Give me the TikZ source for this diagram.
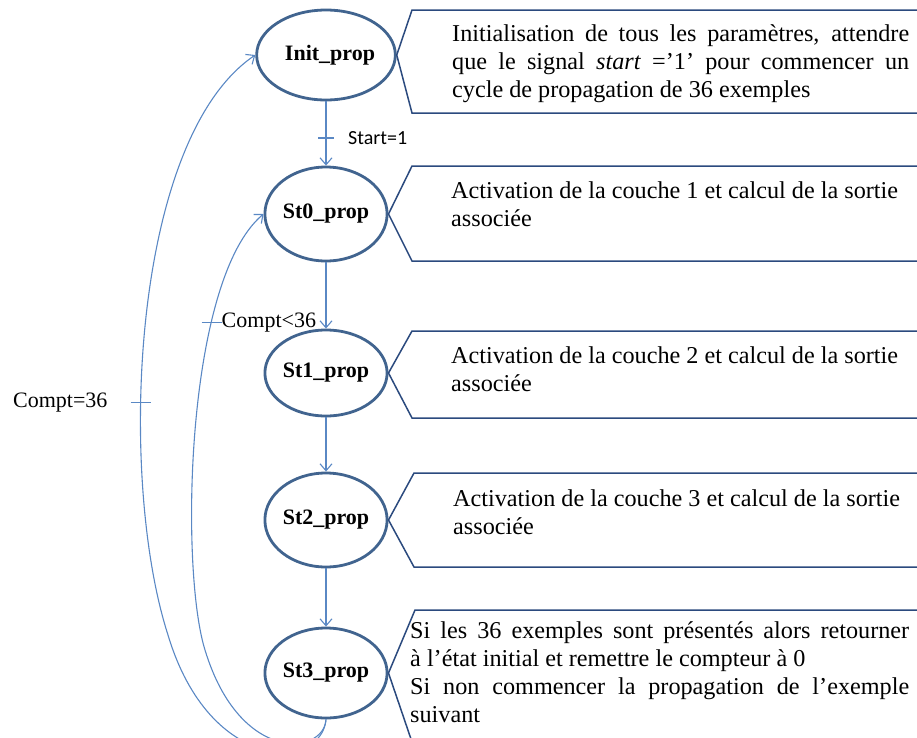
\documentclass[tikz,border=0pt]{standalone}
\usepackage{fontspec}
\setmainfont{Liberation Serif}
\newfontfamily\calib{Carlito}
\usetikzlibrary{shapes.geometric,arrows.meta,calc}
\definecolor{ellc}{HTML}{41648F}
\definecolor{linec}{HTML}{5A88C4}
\definecolor{boxc}{HTML}{2B4A7E}
\begin{document}
\begin{tikzpicture}[x=1pt,y=-1pt,
  state/.style={ellipse,draw=ellc,line width=2.8pt,minimum width=116pt,minimum height=90pt,inner sep=0pt,font=\fontsize{22}{24}\selectfont\bfseries},
  trans/.style={draw=linec,line width=1.1pt,-{Straight Barb[length=7pt,width=12pt,line width=1.1pt]}},
  tickline/.style={draw=linec,line width=1.1pt},
  callout/.style={draw=boxc,line width=1.5pt},
  desc/.style={anchor=north west,inner sep=0pt,font=\fontsize{24.2}{28}\selectfont},
  lab/.style={inner sep=0pt,font=\fontsize{22}{24}\selectfont},
  tk/.style={inner sep=0pt,minimum size=0pt}]
\useasboundingbox (0,0) rectangle (917,737);

% states
\node[state] (init) at (326,55) {\hspace*{8pt}Init\_prop};
\node[state,minimum height=94pt] (s0) at (326,214) {St0\_prop};
\node[state,minimum height=86pt] (s1) at (326,373) {St1\_prop};
\node[state,minimum height=94pt] (s2) at (326,520) {St2\_prop};
\node[state] (s3) at (326,673) {St3\_prop};

% callouts
\draw[callout] (917,10) -- (412,10) -- (init.east) -- (412,113) -- (917,113);
\draw[callout] (917,166) -- (412,166) -- (s0.east) -- (412,261) -- (917,261);
\draw[callout] (917,331) -- (412,331) -- (s1.east) -- (412,418) -- (917,418);
\draw[callout] (917,473) -- (414,473) -- (s2.east) -- (414,567) -- (917,567);
\draw[callout] (917,610) -- (415,610) -- (s3.east) -- (412,742);

% descriptions
\node[desc,text width=457pt,align=justify] (d0) at (452,24) {Initialisation de tous les paramètres, attendre\linebreak que le signal \textit{start} =’1’ pour commencer un\linebreak cycle de propagation de 36 exemples};
\node[desc,align=left] (d1) at (451,182) {Activation de la couche 1 et calcul de la sortie\\associée};
\node[desc,align=left] (d2) at (451,346) {Activation de la couche 2 et calcul de la sortie\\associée};
\node[desc,align=left] (d3) at (453,489) {Activation de la couche 3 et calcul de la sortie\\associée};
\node[desc,text width=499pt,align=justify] (d4) at (410,621) {Si les 36 exemples sont présentés alors retourner\linebreak à l’état initial et remettre le compteur à 0\\Si non commencer la propagation de l’exemple\linebreak suivant};

% forward transitions
\draw[trans] (init.south) -- node[tk,pos=0.57] (tkA) {} (s0.north);
\draw[tickline] ([xshift=-8pt]tkA.center) -- ([xshift=8pt]tkA.center);
\node[lab,anchor=west,font=\calib\fontsize{20}{22}\selectfont] (lA) at ([xshift=22pt]tkA.center) {Start=1};
\draw[trans] (s0.south) -- (s1.north);
\draw[trans] (s1.south) -- (s2.north);
\draw[trans] (s2.south) -- (s3.north);

% loop St3 -> St0
\draw[trans] (s3.south) .. controls (324,755) and (240,765) .. (205,650)
  .. controls (180,570) and (185,280) .. node[tk,pos=0.7] (tkB) {} (s0.west);
\draw[tickline] ([xshift=-10pt]tkB.center) -- ([xshift=10pt]tkB.center);
\node[lab,anchor=west] (lB) at ([xshift=10pt]tkB.center) {Compt<36};

% loop St3 -> Init
\draw[trans] (s3.south) .. controls (322,770) and (210,775) .. (168,635)
  .. controls (118,480) and (130,140) .. node[tk,pos=0.38] (tkC) {} (init.west);
\draw[tickline] ([xshift=-10pt]tkC.center) -- ([xshift=10pt]tkC.center);
\node[lab,anchor=east] (lC) at ([xshift=-33pt]tkC.center) {Compt=36};
\end{tikzpicture}
\end{document}
